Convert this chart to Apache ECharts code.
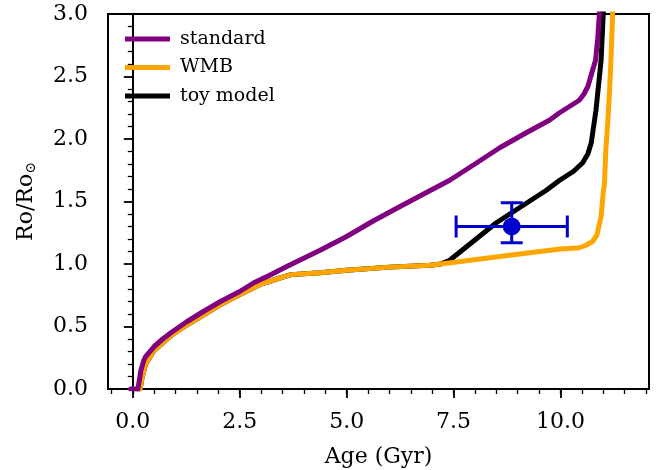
<!DOCTYPE html>
<html>
<head>
<meta charset="utf-8">
<script src="https://cdn.jsdelivr.net/npm/echarts@6/dist/echarts.min.js"></script>
<style>html,body{margin:0;padding:0;background:#fff}#c{width:659px;height:470px}</style>
</head>
<body>
<div id="c"></div>
<script>
// ---- data ----
const stdAge = [-0.05,0.12,0.19,0.26,0.3,0.5,0.7,0.89,1.27,1.65,2.05,2.5,2.83,3.2,3.6,4.38,5.0,5.6,6.25,6.8,7.41,8.0,8.58,9.2,9.74,9.98,10.44,10.55,10.64,10.75,10.82,10.87,10.91,10.93];
const stdRo  = [0,0,0.15,0.23,0.26,0.34,0.40,0.45,0.54,0.62,0.70,0.78,0.85,0.91,0.98,1.11,1.22,1.34,1.46,1.56,1.67,1.80,1.93,2.05,2.15,2.21,2.31,2.36,2.42,2.55,2.63,2.80,3.0,3.2];

const wmbAge = [0.1,0.17,0.22,0.3,0.5,0.9,1.3,2.05,2.5,3.0,3.6,3.7,4.38,5.0,6.0,6.95,7.2,8.58,9.28,10.0,10.44,10.6,10.75,10.85,10.95,11.0,11.03,11.06,11.1,11.15,11.18,11.22,11.24];
const wmbRo  = [0,0,0.1,0.2,0.31,0.43,0.52,0.675,0.755,0.84,0.905,0.915,0.93,0.95,0.975,0.99,1.0,1.06,1.09,1.12,1.13,1.15,1.18,1.23,1.38,1.57,1.65,1.91,2.1,2.4,2.63,3.0,3.2];

const toyAge = [0.1,0.17,0.22,0.3,0.5,0.9,1.3,2.05,2.5,3.0,3.6,3.7,4.38,5.0,6.0,6.95,7.2,7.41,8.5,9.67,9.98,10.3,10.52,10.64,10.72,10.83,10.95,11.0,11.02];
const toyRo  = [0,0,0.1,0.2,0.31,0.43,0.52,0.675,0.755,0.84,0.905,0.915,0.93,0.95,0.975,0.99,1.0,1.03,1.33,1.59,1.67,1.74,1.81,1.88,1.97,2.23,2.63,3.0,3.2];

const obsAge = [8.86];
const obsRo = [1.30];
const obsAgeErr = [1.3];
const obsRoErrUp = [0.19];
const obsRoErrDown = [0.13];

const seriesNames = ['standard','WMB','toy model'];
const xMajorTicks = [0,2.5,5,7.5,10];
const xMinorTicks = [-0.5,0,0.5,1,1.5,2,2.5,3,3.5,4,4.5,5,5.5,6,6.5,7,7.5,8,8.5,9,9.5,10,10.5,11,11.5,12];
const xAxisTitle = 'Age (Gyr)';

// ---- chart ----
const zip = (a,b) => a.map((v,i)=>[v,b[i]]);
const FONT = 'DejaVu Serif';
const chart = echarts.init(document.getElementById('c'), null, {renderer:'canvas'});
const xmin = -0.58, xmax = 12.07;

chart.setOption({
  animation:false,
  backgroundColor:'#fff',
  grid:{left:108,right:10,top:14,bottom:81,containLabel:false,outerBoundsMode:'none',
        show:true,borderColor:'#000',borderWidth:2,backgroundColor:'transparent'},
  legend:{
    data:seriesNames,
    orient:'vertical',
    left:120, top:24,
    icon:'rect', itemWidth:45, itemHeight:5, itemGap:8.5,
    textStyle:{fontFamily:FONT,fontSize:19,color:'#000',padding:[0,0,0,5],lineHeight:20}
  },
  xAxis:[{
    type:'value', min:xmin, max:xmax,
    name:xAxisTitle, nameLocation:'middle', nameGap:57,
    nameTextStyle:{fontFamily:FONT,fontSize:22,color:'#000'},
    axisLine:{show:true,onZero:false,lineStyle:{color:'#000',width:2}},
    axisTick:{show:true,length:9,lineStyle:{color:'#000',width:1.8},customValues:xMajorTicks},
    axisLabel:{show:true,fontFamily:FONT,fontSize:22,color:'#000',margin:22,customValues:xMajorTicks,formatter:v=>v.toFixed(1)},
    splitLine:{show:false}
  },{
    type:'value', min:xmin, max:xmax, position:'bottom', gridIndex:0,
    axisLine:{show:false},
    axisTick:{show:true,length:5,lineStyle:{color:'#000',width:1.3},customValues:xMinorTicks},
    axisLabel:{show:false},
    splitLine:{show:false}
  }],
  yAxis:{
    type:'value', min:0, max:3, interval:0.5,
    name:'{a|Ro/Ro}{s|⊙}', nameLocation:'middle', nameGap:70, nameRotate:90,
    nameTextStyle:{fontFamily:FONT,fontSize:22,color:'#000',rich:{
      a:{fontFamily:FONT,fontSize:22,color:'#000'},
      s:{fontFamily:FONT,fontSize:14,color:'#000',padding:[9,0,0,0]}
    }},
    axisLine:{show:true,lineStyle:{color:'#000',width:2}},
    axisTick:{show:true,length:9,lineStyle:{color:'#000',width:1.8}},
    minorTick:{show:true,splitNumber:5,length:5,lineStyle:{color:'#000',width:1.3}},
    axisLabel:{fontFamily:FONT,fontSize:22,color:'#000',margin:20,formatter:v=>v.toFixed(1)},
    splitLine:{show:false}, minorSplitLine:{show:false}
  },
  series:[
    {name:'toy model',type:'line',data:zip(toyAge,toyRo),showSymbol:false,z:2,
     lineStyle:{color:'#000',width:5,join:'round',cap:'round'},itemStyle:{color:'#000'}},
    {name:'WMB',type:'line',data:zip(wmbAge,wmbRo),showSymbol:false,z:3,
     lineStyle:{color:'#FFA500',width:5,join:'round',cap:'round'},itemStyle:{color:'#FFA500'}},
    {name:'standard',type:'line',data:zip(stdAge,stdRo),showSymbol:false,z:4,
     lineStyle:{color:'#800080',width:5,join:'round',cap:'round'},itemStyle:{color:'#800080'}},
    {name:'obs',type:'custom',z:10,
     data:obsAge.map((a,i)=>[a,obsRo[i],obsAgeErr[i],obsRoErrUp[i],obsRoErrDown[i]]),
     renderItem:function(params,api){
       const x=api.value(0), y=api.value(1), ex=api.value(2), eu=api.value(3), ed=api.value(4);
       const c=api.coord([x,y]), l=api.coord([x-ex,y]), r=api.coord([x+ex,y]);
       const t=api.coord([x,y+eu]), b=api.coord([x,y-ed]);
       const st={stroke:'#0000CD',lineWidth:3};
       const cap=11;
       return {type:'group',children:[
         {type:'line',shape:{x1:l[0],y1:c[1],x2:r[0],y2:c[1]},style:st},
         {type:'line',shape:{x1:c[0],y1:t[1],x2:c[0],y2:b[1]},style:st},
         {type:'line',shape:{x1:l[0],y1:c[1]-cap,x2:l[0],y2:c[1]+cap},style:st},
         {type:'line',shape:{x1:r[0],y1:c[1]-cap,x2:r[0],y2:c[1]+cap},style:st},
         {type:'line',shape:{x1:c[0]-cap,y1:t[1],x2:c[0]+cap,y2:t[1]},style:st},
         {type:'line',shape:{x1:c[0]-cap,y1:b[1],x2:c[0]+cap,y2:b[1]},style:st},
         {type:'circle',shape:{cx:c[0],cy:c[1],r:9},style:{fill:'#0000CD'}}
       ]};
     }}
  ]
});
</script>
</body>
</html>
